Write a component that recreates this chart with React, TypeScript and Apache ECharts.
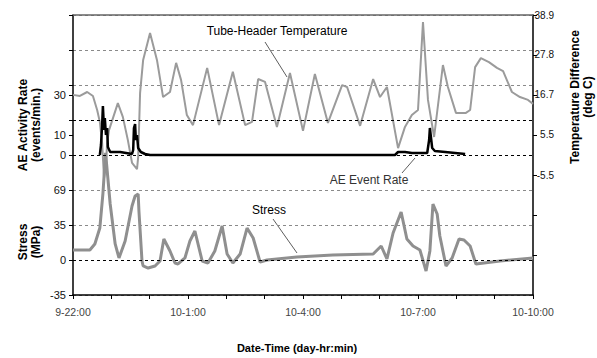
import React, { useEffect, useRef } from "react";
import * as echarts from "echarts";

// x values are hours after 9-22:00
const xTickLabels: Record<number, string> = { 0: "9-22:00", 3: "10-1:00", 6: "10-4:00", 9: "10-7:00", 12: "10-10:00" };

const tempHours = [0.0, 0.18, 0.37, 0.52, 0.63, 0.7, 0.76, 0.81, 0.86, 0.89, 0.94, 1.17, 1.3, 1.43, 1.54, 1.67, 1.7, 1.75, 1.83, 2.01, 2.19, 2.35, 2.53, 2.69, 2.82, 2.97, 3.13, 3.5, 3.81, 4.17, 4.49, 4.67, 4.83, 5.01, 5.32, 5.66, 6.0, 6.31, 6.65, 7.02, 7.15, 7.49, 7.83, 8.01, 8.19, 8.48, 8.66, 8.84, 9.0, 9.13, 9.26, 9.42, 9.65, 9.78, 9.99, 10.25, 10.36, 10.49, 10.64, 10.85, 11.06, 11.22, 11.45, 11.66, 11.87, 12.0];
const tempDegC = [16.7, 16.4, 17.5, 16.4, 12.5, 9.2, 3.3, -6.4, -2.8, 3.3, 6.9, 14.4, 10.6, 4.2, -2.2, -3.9, -0.6, 17.2, 26.4, 33.9, 26.4, 16.1, 17.5, 25.6, 20.8, 11.1, 8.3, 24.2, 8.3, 23.1, 8.3, 9.2, 21.1, 20.3, 7.8, 22.8, 6.7, 22.5, 8.9, 19.4, 18.9, 8.1, 21.1, 16.1, 18.9, 1.9, 7.8, 11.1, 12.5, 36.9, 15.3, 5.0, 25.0, 18.9, 11.7, 11.7, 12.5, 24.4, 26.9, 25.8, 24.2, 23.3, 17.5, 16.1, 15.3, 14.2];

const aeHours = [0.7, 0.73, 0.76, 0.78, 0.81, 0.83, 0.86, 0.89, 0.91, 0.97, 1.23, 1.54, 1.57, 1.59, 1.62, 1.64, 1.67, 1.7, 1.77, 1.88, 2.01, 8.4, 8.48, 8.66, 8.84, 9.05, 9.24, 9.29, 9.31, 9.34, 9.37, 9.44, 9.71, 9.97, 10.23];
const aeRate = [0, 5, 15, 24.5, 12.5, 18.5, 10, 13.5, 4, 1.5, 1.5, 0.5, 2.5, 13.5, 15.5, 7.5, 10, 3.5, 1.5, 0.5, 0, 0, 1.5, 1.5, 1, 1, 1, 7.5, 13.5, 8.5, 3.5, 2, 1.5, 1, 0.5];

const stressHours = [0.0, 0.44, 0.57, 0.7, 0.78, 0.85, 0.97, 1.1, 1.2, 1.36, 1.54, 1.62, 1.7, 1.72, 1.8, 1.83, 1.96, 2.14, 2.27, 2.37, 2.53, 2.66, 2.74, 2.92, 3.05, 3.18, 3.37, 3.52, 3.7, 3.89, 4.02, 4.17, 4.36, 4.54, 4.7, 4.88, 5.06, 5.84, 6.78, 7.83, 8.04, 8.19, 8.35, 8.56, 8.71, 8.87, 9.05, 9.21, 9.31, 9.39, 9.5, 9.57, 9.73, 9.89, 10.07, 10.2, 10.36, 10.51, 11.14, 12.0];
const stressMPa = [9.9, 9.9, 15.8, 31.5, 65.1, 105.5, 55.2, 15.8, 2.0, 18.7, 53.2, 63.1, 65.1, 48.3, -1.0, -5.9, -7.9, -5.9, -1.0, 20.7, 8.9, -3.0, -3.9, 2.0, 18.7, 28.6, -1.0, -3.0, 8.9, 33.5, 5.9, -3.0, 5.9, 31.5, 21.7, -2.0, 0, 3.0, 4.9, 5.9, 13.8, 1.0, 26.6, 47.3, 20.7, 13.8, 9.9, -10.8, 8.9, 55.2, 45.3, 23.7, -5.9, 2.0, 20.7, 19.7, 13.8, -3.9, -1.0, 2.0];

const stressLabels: [number, string][] = [[-34.5, "-35"], [0, "0"], [34.5, "35"], [69, "69"]];
const aeLabelValues = [0, 10, 30];
const tempTickValues = [-27.7778, -16.6667, -5.5556, 5.5556, 16.6667, 27.7778, 38.8889];
const tempLabels: [number, string][] = [[-5.5556, "-5.5"], [5.5556, "5.5"], [16.6667, "16.7"], [27.7778, "27.8"], [38.8889, "38.9"]];
const darkGridStress = [0, 103.5, 138];

const FONT = "'Liberation Sans', Arial, sans-serif";

function lookup(list: [number, string][], v: number): string {
  for (const [k, s] of list) if (Math.abs(k - v) < 0.05) return s;
  return "";
}

export default function App() {
  const ref = useRef<HTMLDivElement>(null);
  useEffect(() => {
    const chart = echarts.init(ref.current!, null, { renderer: "svg" });
    const tempData = tempHours.map((h, i) => [h, tempDegC[i]]);
    const aeData = aeHours.map((h, i) => [h, aeRate[i]]);
    const stressData = stressHours.map((h, i) => [h, stressMPa[i]]);
    const option: any = {
      animation: false,
      textStyle: { fontFamily: FONT },
      grid: { left: 73, top: 15, width: 460, height: 280, containLabel: false },
      xAxis: [
        {
          type: "value", min: 0, max: 12, interval: 1, position: "bottom",
          axisLine: { show: true, onZero: false, lineStyle: { color: "#000", width: 1.5 } },
          axisTick: { show: true, length: 4, lineStyle: { color: "#000" } },
          axisLabel: { fontSize: 10.5, color: "#444", margin: 11, fontFamily: FONT, showMinLabel: true, showMaxLabel: true, formatter: (v: number) => xTickLabels[Math.round(v)] && Math.abs(v - Math.round(v)) < 1e-6 ? xTickLabels[Math.round(v)] : "" },
          splitLine: { show: false },
        },
        {
          type: "value", min: 0, max: 12, position: "top",
          axisLine: { show: true, onZero: false, lineStyle: { color: "#666", width: 1.5 } },
          axisTick: { show: false }, axisLabel: { show: false }, splitLine: { show: false },
        },
      ],
      yAxis: [
        {
          type: "value", min: -34.5, max: 241.5, interval: 34.5, position: "left",
          axisLine: { show: true, onZero: false, lineStyle: { color: "#000", width: 1.5 } },
          axisTick: { show: true, length: 4, lineStyle: { color: "#000" } },
          axisLabel: { fontSize: 11, color: "#111", margin: 7, fontFamily: FONT, showMinLabel: true, formatter: (v: number) => lookup(stressLabels, v) },
          splitLine: { show: true, lineStyle: { color: "#8a8a8a", type: [3, 3], width: 1 } },
        },
        {
          type: "value", min: -70, max: 70, position: "left",
          axisLine: { show: false },
          axisTick: { show: true, customValues: aeLabelValues, length: 4, lineStyle: { color: "#000" } },
          axisLabel: { customValues: aeLabelValues, fontSize: 11, color: "#111", margin: 7, fontFamily: FONT },
          splitLine: { show: false },
        },
        {
          type: "value", min: -38.8889, max: 38.8889, position: "right",
          axisLine: { show: true, onZero: false, lineStyle: { color: "#000", width: 1.5 } },
          axisTick: { show: true, customValues: tempTickValues, length: 4, lineStyle: { color: "#000" } },
          axisLabel: { customValues: tempLabels.map((t) => t[0]), fontSize: 10, color: "#111", margin: 21, align: "right", fontFamily: FONT, formatter: (v: number) => lookup(tempLabels, v) },
          splitLine: { show: false },
        },
      ],
      series: [
        {
          type: "line", xAxisIndex: 0, yAxisIndex: 0, data: [], z: 1, silent: true,
          markLine: {
            silent: true, symbol: ["none", "none"], label: { show: false },
            lineStyle: { color: "#000", type: [3, 3], width: 1 },
            data: darkGridStress.map((v) => ({ yAxis: v })),
          },
        },
        { name: "Tube-Header Temperature", type: "line", xAxisIndex: 0, yAxisIndex: 2, data: tempData, symbol: "none", lineStyle: { color: "#9b9b9b", width: 2 }, z: 2 },
        { name: "AE Event Rate", type: "line", xAxisIndex: 0, yAxisIndex: 1, data: aeData, symbol: "none", lineStyle: { color: "#000", width: 2.5 }, z: 3 },
        { name: "Stress", type: "line", xAxisIndex: 0, yAxisIndex: 0, data: stressData, symbol: "none", lineStyle: { color: "#8f8f8f", width: 3 }, z: 4 },
      ],
      graphic: [
        { type: "text", x: 23, y: 125, rotation: Math.PI / 2, style: { text: "AE Activity Rate", font: `bold 12px ${FONT}`, fill: "#000", align: "center", verticalAlign: "middle" } },
        { type: "text", x: 36, y: 125, rotation: Math.PI / 2, style: { text: "(events/min.)", font: `bold 12px ${FONT}`, fill: "#000", align: "center", verticalAlign: "middle" } },
        { type: "text", x: 23, y: 242, rotation: Math.PI / 2, style: { text: "Stress", font: `bold 12px ${FONT}`, fill: "#000", align: "center", verticalAlign: "middle" } },
        { type: "text", x: 36, y: 242, rotation: Math.PI / 2, style: { text: "(MPa)", font: `bold 12px ${FONT}`, fill: "#000", align: "center", verticalAlign: "middle" } },
        { type: "text", x: 575, y: 97, rotation: Math.PI / 2, style: { text: "Temperature Difference", font: `bold 12px ${FONT}`, fill: "#000", align: "center", verticalAlign: "middle" } },
        { type: "text", x: 588, y: 97, rotation: Math.PI / 2, style: { text: "(deg C)", font: `bold 12px ${FONT}`, fill: "#000", align: "center", verticalAlign: "middle" } },
        { type: "text", x: 297, y: 348, style: { text: "Date-Time (day-hr:min)", font: `bold 11px ${FONT}`, fill: "#000", align: "center", verticalAlign: "middle" } },
        { type: "text", x: 277, y: 31, style: { text: "Tube-Header Temperature", font: `12px ${FONT}`, fill: "#000", align: "center", verticalAlign: "middle" } },
        { type: "text", x: 369, y: 180, style: { text: "AE Event Rate", font: `12px ${FONT}`, fill: "#333", align: "center", verticalAlign: "middle" } },
        { type: "text", x: 269, y: 210, style: { text: "Stress", font: `12px ${FONT}`, fill: "#000", align: "center", verticalAlign: "middle" } },
        { type: "line", shape: { x1: 265, y1: 42, x2: 287, y2: 77 }, style: { stroke: "#333", lineWidth: 0.8 } },
        { type: "line", shape: { x1: 402, y1: 173, x2: 415, y2: 158 }, style: { stroke: "#333", lineWidth: 0.8 } },
        { type: "line", shape: { x1: 273, y1: 219, x2: 297, y2: 253 }, style: { stroke: "#333", lineWidth: 0.8 } },
      ],
    };
    chart.setOption(option);
    return () => chart.dispose();
  }, []);
  return <div ref={ref} style={{ position: "absolute", left: 0, top: 0, width: 597, height: 358 }} />;
}
